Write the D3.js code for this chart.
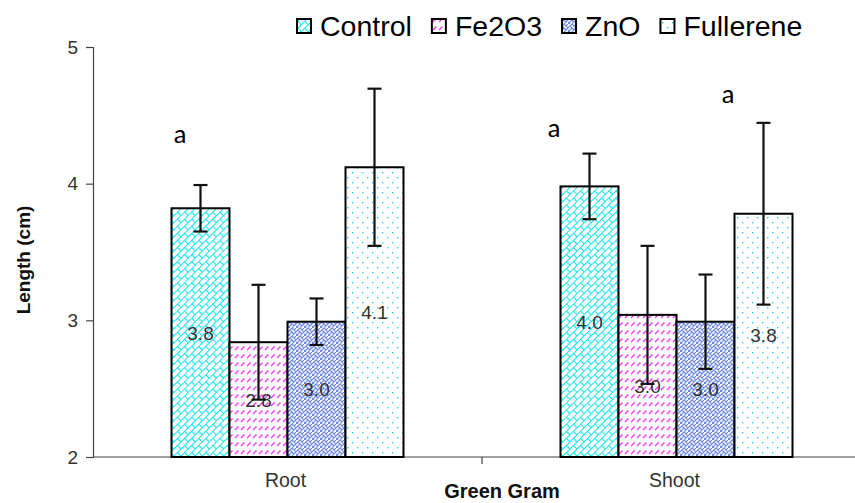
<!DOCTYPE html>
<html><head><meta charset="utf-8">
<script src="https://cdn.jsdelivr.net/npm/d3@7"></script>
<style>body{margin:0;background:#fff}svg{display:block}</style>
</head><body>
<svg id="chart" width="855" height="503"></svg>
<script>
(function(){
const categories = ["Root", "Shoot"];
const seriesNames = ["Control", "Fe2O3", "ZnO", "Fullerene"];
const rootValues  = [3.82, 2.84, 2.99, 4.12];
const shootValues = [3.98, 3.04, 2.99, 3.78];
const rootErrors  = [0.17, 0.42, 0.17, 0.575];
const shootErrors = [0.24, 0.505, 0.345, 0.665];
const yTicks = [2, 3, 4, 5];
const annotations = [
  {category: "Root", series: "Control", text: "a", y: 4.30, anchor: "start"},
  {category: "Shoot", series: "Control", text: "a", y: 4.34, anchor: "end"},
  {category: "Shoot", series: "Fullerene", text: "a", y: 4.59, anchor: "end"}
];
const xTitle = "Green Gram";
const yTitle = "Length (cm)";

const values = {Root: rootValues, Shoot: shootValues};
const errors = {Root: rootErrors, Shoot: shootErrors};
const data = [];
categories.forEach(c => seriesNames.forEach((s, i) => data.push({category: c, series: s, value: values[c][i], err: errors[c][i]})));

const svg = d3.select("#chart");
const font = "'Liberation Sans', Arial, sans-serif";
const mLeft = 93, mBottom = 457, mTop = 47;

const y = d3.scaleLinear().domain([2, 5]).range([mBottom, mTop]);
const x0 = d3.scaleBand().domain(categories).range([mLeft, mLeft + 778]);
const groupW = 232;
const x1 = d3.scaleBand().domain(seriesNames).range([0, groupW]);
const barX = d => x0(d.category) + (x0.bandwidth() - groupW) / 2 + x1(d.series);

// patterns
const defs = svg.append("defs");
const pc = defs.append("pattern").attr("id", "p-Control").attr("patternUnits", "userSpaceOnUse")
  .attr("width", 10).attr("height", 10).attr("patternTransform", "rotate(-45)");
pc.append("rect").attr("width", 10).attr("height", 10).attr("fill", "#fff");
pc.append("path").attr("d", "M0,0.5H10M0,5.5H10M0.5,0V5.5M5.5,5.5V10").attr("stroke", "#19E6EE").attr("stroke-width", 1.2).attr("fill", "none");
const pf = defs.append("pattern").attr("id", "p-Fe2O3").attr("patternUnits", "userSpaceOnUse")
  .attr("width", 6).attr("height", 8);
pf.append("rect").attr("width", 6).attr("height", 8).attr("fill", "#fff");
pf.append("path").attr("d", "M1,6L4.5,2.5").attr("stroke", "#F23CF0").attr("stroke-width", 1.5).attr("fill", "none");
const pz = defs.append("pattern").attr("id", "p-ZnO").attr("patternUnits", "userSpaceOnUse")
  .attr("width", 8).attr("height", 8);
pz.append("rect").attr("width", 8).attr("height", 8).attr("fill", "#fff");
pz.append("path").attr("d", "M0,4L4,0L8,4M0,8L4,4M4,8L8,4M2,2L6,6M6,2L8,0M0,6L2,8").attr("stroke", "#6A86E4").attr("stroke-width", 1.1).attr("fill", "none");
const pd = defs.append("pattern").attr("id", "p-Fullerene").attr("patternUnits", "userSpaceOnUse")
  .attr("width", 10).attr("height", 10);
pd.append("rect").attr("width", 10).attr("height", 10).attr("fill", "#fff");
pd.append("rect").attr("x", 2).attr("y", 2).attr("width", 1.4).attr("height", 1.4).attr("fill", "#33C8F0");
pd.append("rect").attr("x", 7).attr("y", 7).attr("width", 1.4).attr("height", 1.4).attr("fill", "#33C8F0");

// axes
const yAxis = d3.axisLeft(y).tickValues(yTicks).tickSize(7).tickPadding(8).tickFormat(d3.format("d"));
const gy = svg.append("g").attr("transform", `translate(${mLeft},0)`).call(yAxis);
gy.select(".domain").attr("stroke", "#444").attr("stroke-width", 1.2);
gy.selectAll(".tick line").attr("stroke", "#444").attr("stroke-width", 1.2);
gy.selectAll(".tick text").attr("font-family", font).attr("font-size", 19).attr("fill", "#333");

const gx = svg.append("g").attr("transform", `translate(0,${mBottom})`);
gx.append("line").attr("x1", mLeft).attr("x2", 855).attr("stroke", "#444").attr("stroke-width", 1.2);
gx.append("line").attr("x1", x0("Shoot")).attr("x2", x0("Shoot")).attr("y1", 0).attr("y2", 7).attr("stroke", "#444").attr("stroke-width", 1.2);
gx.selectAll("text.cat").data(categories).join("text").attr("class", "cat")
  .attr("x", d => x0(d) + x0.bandwidth() / 2 - 2).attr("y", 30)
  .attr("text-anchor", "middle").attr("font-family", font).attr("font-size", 19.5).attr("fill", "#333").text(d => d);

// bars
svg.append("g").selectAll("rect").data(data).join("rect")
  .attr("x", barX).attr("width", x1.bandwidth())
  .attr("y", d => y(d.value)).attr("height", d => mBottom - y(d.value))
  .attr("fill", d => `url(#p-${d.series})`).attr("stroke", "#000").attr("stroke-width", 2);

// value labels
svg.append("g").selectAll("text").data(data).join("text")
  .attr("x", d => barX(d) + x1.bandwidth() / 2)
  .attr("y", d => (y(d.value) + mBottom) / 2 + 7)
  .attr("text-anchor", "middle").attr("font-family", font).attr("font-size", 19).attr("fill", "#333")
  .text(d => d3.format(".1f")(d.value));

// error bars
const eg = svg.append("g").attr("stroke", "#111").attr("stroke-width", 2.2);
data.forEach(d => {
  const cx = barX(d) + x1.bandwidth() / 2;
  eg.append("line").attr("x1", cx).attr("x2", cx).attr("y1", y(d.value + d.err)).attr("y2", y(d.value - d.err));
  [d.value + d.err, d.value - d.err].forEach(v =>
    eg.append("line").attr("x1", cx - 7).attr("x2", cx + 7).attr("y1", y(v)).attr("y2", y(v)));
});

// annotations
svg.append("g").selectAll("text").data(annotations).join("text")
  .attr("x", d => {
    const bx = barX({category: d.category, series: d.series});
    return d.anchor === "start" ? bx + 2 : bx;
  })
  .attr("y", d => y(d.y)).attr("text-anchor", d => d.anchor)
  .attr("font-family", "Carlito, 'Open Sans', sans-serif").attr("font-size", 27).attr("fill", "#000").text(d => d.text);

// titles
svg.append("text").attr("x", 502).attr("y", 498).attr("text-anchor", "middle")
  .attr("font-family", font).attr("font-weight", "bold").attr("font-size", 20).attr("fill", "#111").text(xTitle);
svg.append("text").attr("transform", `translate(30,${(mTop + mBottom) / 2 + 8}) rotate(-90)`).attr("text-anchor", "middle")
  .attr("font-family", font).attr("font-weight", "bold").attr("font-size", 19).attr("fill", "#111").text(yTitle);

// legend
const lg = svg.append("g");
let lx = 297;
seriesNames.forEach(s => {
  lg.append("rect").attr("x", lx).attr("y", 19).attr("width", 14).attr("height", 14)
    .attr("fill", `url(#p-${s})`).attr("stroke", "#000").attr("stroke-width", 2);
  const t = lg.append("text").attr("x", lx + 23).attr("y", 36).attr("font-family", font).attr("font-size", 28.5).attr("fill", "#000").text(s);
  lx += 23 + t.node().getComputedTextLength() + 20;
});
})();
</script>
</body></html>
